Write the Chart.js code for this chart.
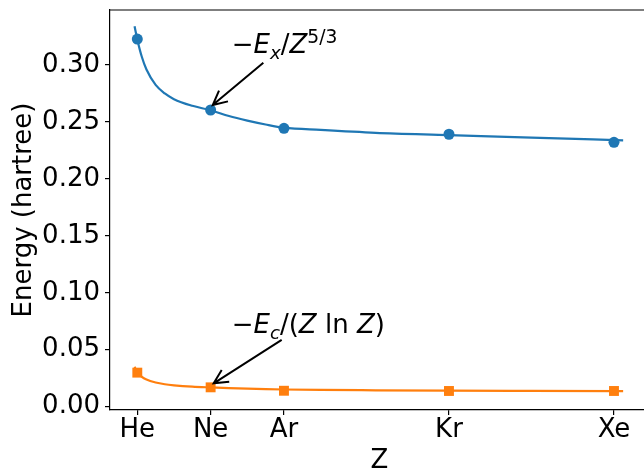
<!DOCTYPE html>
<html><head><meta charset="utf-8">
<script src="https://cdn.jsdelivr.net/npm/chart.js@4.4.0/dist/chart.umd.min.js"></script>
<style>
html,body{margin:0;padding:0;background:#fff;overflow:hidden;width:644px;height:470px}
#wrap{width:660px;height:470px}
</style>
</head><body><div id="wrap"><canvas id="c" width="660" height="470"></canvas></div>
<script>
// ---- data ----
const elements = ['He', 'Ne', 'Ar', 'Kr', 'Xe'];
const atomicNumbers = [2, 10, 18, 36, 54];
const exchangeValues = [0.3228, 0.2605, 0.2444, 0.2392, 0.2321];
const correlationValues = [0.0299, 0.0170, 0.0140, 0.0138, 0.0138];
const fitZ = [1.7, 2, 2.5, 3, 4, 5, 6, 8, 10, 12, 14, 16, 18, 22, 28, 36, 45, 55];
const exchangeFit = [0.3340, 0.3225, 0.3070, 0.2960, 0.2825, 0.2750, 0.2700, 0.2642, 0.2603, 0.2552, 0.2512, 0.2478, 0.2450, 0.2430, 0.2405, 0.2385, 0.2362, 0.2339];
const correlationFit = [0.0350, 0.0305, 0.0262, 0.0238, 0.0212, 0.0197, 0.0188, 0.0176, 0.0169, 0.0163, 0.0158, 0.0154, 0.0151, 0.0147, 0.0144, 0.0141, 0.0139, 0.0137];
const yTicks = [0.00, 0.05, 0.10, 0.15, 0.20, 0.25, 0.30];

const FONT = 'DejaVu Sans';
const toXY = (xs, ys) => xs.map((x, i) => ({x: x, y: ys[i]}));

// rich (mathtext-like) label segments
const exchangeLabel = [
  {t: '\u2212'}, {t: 'E', it: true}, {t: 'x', it: true, s: 0.7, dy: 0.22},
  {t: '/'}, {t: 'Z', it: true}, {t: '5/3', s: 0.72, dy: -0.38}
];
const correlationLabel = [
  {t: '\u2212'}, {t: 'E', it: true}, {t: 'c', it: true, s: 0.7, dy: 0.22},
  {t: '/('}, {t: 'Z', it: true}, {t: ' ln '}, {t: 'Z', it: true}, {t: ')'}
];

function drawRich(ctx, x, y, segs, size) {
  ctx.textBaseline = 'alphabetic';
  ctx.textAlign = 'left';
  let cx = x;
  for (const s of segs) {
    const fs = size * (s.s || 1);
    ctx.font = (s.it ? 'italic ' : '') + fs + 'px "' + FONT + '"';
    ctx.fillText(s.t, cx, y + (s.dy || 0) * size);
    cx += ctx.measureText(s.t).width;
  }
}

function drawArrow(ctx, x0, y0, x1, y1) {
  const ang = Math.atan2(y1 - y0, x1 - x0);
  const L = 14, W = 7;
  ctx.beginPath();
  ctx.moveTo(x0, y0); ctx.lineTo(x1, y1);
  const bx = x1 - L * Math.cos(ang), by = y1 - L * Math.sin(ang);
  const px = -Math.sin(ang) * W, py = Math.cos(ang) * W;
  ctx.moveTo(bx + px, by + py); ctx.lineTo(x1, y1); ctx.lineTo(bx - px, by - py);
  ctx.stroke();
}

const annotationPlugin = {
  id: 'annot',
  afterDraw(chart, args, opts) {
    const {ctx, chartArea, scales: {x, y}} = chart;
    ctx.save();
    // top spine
    ctx.strokeStyle = '#000'; ctx.lineWidth = 1.2;
    ctx.beginPath(); ctx.moveTo(chartArea.left, chartArea.top); ctx.lineTo(chartArea.right + 2, chartArea.top); ctx.stroke();
    for (const a of opts.items) {
      ctx.fillStyle = '#000'; ctx.strokeStyle = '#000'; ctx.lineWidth = 2;
      ctx.lineCap = 'butt'; ctx.lineJoin = 'miter';
      drawArrow(ctx, x.getPixelForValue(a.tail[0]), y.getPixelForValue(a.tail[1]),
                x.getPixelForValue(a.head[0]), y.getPixelForValue(a.head[1]));
      drawRich(ctx, x.getPixelForValue(a.at[0]), y.getPixelForValue(a.at[1]), a.label, 26);
    }
    ctx.restore();
  }
};

const tickFont = {family: FONT, size: 26};

new Chart(document.getElementById('c'), {
  type: 'scatter',
  data: {
    datasets: [
      {data: toXY(atomicNumbers, exchangeValues), pointStyle: 'circle', pointRadius: 5.5,
       backgroundColor: '#1f77b4', borderWidth: 0, showLine: false},
      {data: toXY(atomicNumbers, correlationValues), pointStyle: 'rect', pointRadius: 7,
       backgroundColor: '#ff7f0e', borderWidth: 0, showLine: false},
      {data: toXY(fitZ, exchangeFit), showLine: true, borderColor: '#1f77b4', borderWidth: 2.2,
       pointRadius: 0, cubicInterpolationMode: 'monotone', fill: false},
      {data: toXY(fitZ, correlationFit), showLine: true, borderColor: '#ff7f0e', borderWidth: 2.2,
       pointRadius: 0, cubicInterpolationMode: 'monotone', fill: false}
    ]
  },
  options: {
    responsive: false, animation: false, devicePixelRatio: 1,
    layout: {padding: {top: 10, right: 11, left: 0, bottom: 0}},
    plugins: {
      legend: {display: false}, tooltip: {enabled: false},
      annot: {items: [
        {label: exchangeLabel, at: [12.3, 0.3103], tail: [15.75, 0.3020], head: [10.23, 0.2649]},
        {label: correlationLabel, at: [12.3, 0.0644], tail: [17.75, 0.0586], head: [10.33, 0.0205]}
      ]}
    },
    scales: {
      x: {
        type: 'linear', min: -0.978, max: 57.82,
        afterBuildTicks: s => { s.ticks = atomicNumbers.map(v => ({value: v})); },
        ticks: {callback: (v, i) => elements[i], font: tickFont, color: '#000', padding: 0,
                maxRotation: 0, autoSkip: false},
        grid: {drawOnChartArea: false, drawTicks: true, tickLength: 5, color: '#000', lineWidth: 1.2},
        border: {display: true, color: '#000', width: 1.2},
        title: {display: true, text: 'Z', color: '#000', font: {family: FONT, size: 26, lineHeight: 0.65}, padding: 0},
        afterFit: s => { s.height = 60; s.paddingLeft = 0; s.paddingRight = 0; s.paddingTop = 0; s.paddingBottom = 0; }
      },
      y: {
        type: 'linear', min: -0.0029, max: 0.3483,
        afterBuildTicks: s => { s.ticks = yTicks.map(v => ({value: v})); },
        ticks: {callback: v => v.toFixed(2), font: tickFont, color: '#000', padding: 5, autoSkip: false},
        grid: {drawOnChartArea: false, drawTicks: true, tickLength: 5, color: '#000', lineWidth: 1.2},
        border: {display: true, color: '#000', width: 1.2},
        title: {display: true, text: 'Energy (hartree)', color: '#000', font: {family: FONT, size: 26},
                padding: {top: 8.4, bottom: 0}},
        afterFit: s => { s.width = 110; s.paddingLeft = 0; s.paddingRight = 0; s.paddingTop = 0; s.paddingBottom = 0; }
      }
    }
  },
  plugins: [annotationPlugin]
});
</script>
</body></html>
